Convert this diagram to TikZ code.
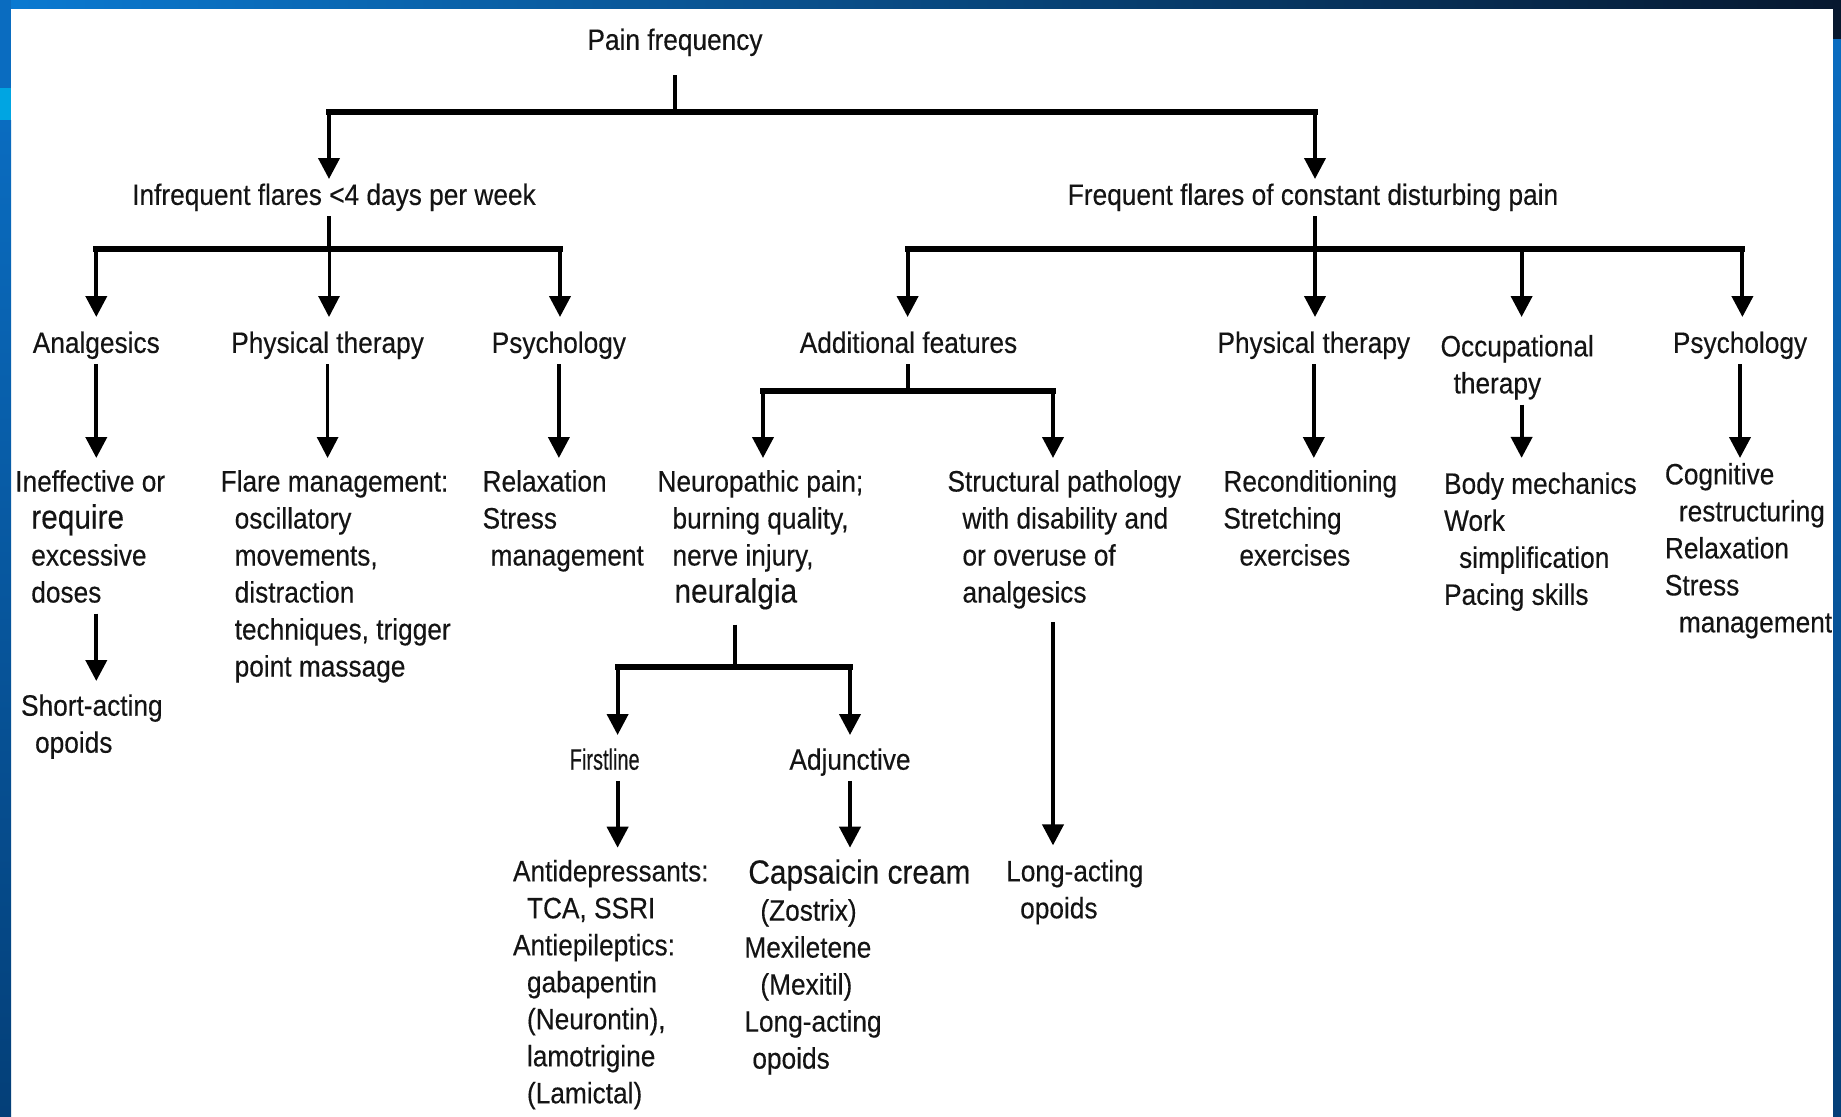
\documentclass[tikz,border=0pt]{standalone}
\usepackage{fontspec}
\setmainfont{Liberation Sans}[FakeStretch=0.89, FakeBold=0.3]
\usetikzlibrary{arrows.meta}
\definecolor{txtc}{HTML}{141414}
\definecolor{barA}{HTML}{0A7AD2}
\definecolor{barB}{HTML}{0A5FA8}
\definecolor{barC}{HTML}{07182F}
\definecolor{sideA}{HTML}{0A6CC0}
\definecolor{sideB}{HTML}{043F78}
\definecolor{sideCyan}{HTML}{00A5E2}
\newcommand\bigtxt[1]{{\fontsize{33.5}{37}\selectfont #1}}
\tikzset{
  txt/.style={inner sep=0pt, outer sep=0pt, text=txtc, font=\fontsize{29.5}{37}\selectfont},
  sl/.style={txt, anchor=center},
  ml/.style={txt, align=left, anchor=north west},
  bar/.style={line width=6pt, line cap=rect, draw=black},
  stem/.style={line width=4pt, draw=black},
  arr/.style={line width=4pt, draw=black, -{Triangle[width=21pt,length=21pt]}},
  tharr/.style={line width=3pt, draw=black, -{Triangle[width=21pt,length=21pt]}}
}
\begin{document}
\begin{tikzpicture}[x=1pt,y=-1pt]
\useasboundingbox (0,0) rectangle (1841,1116);
% background and frame
\fill[white] (0,0) rectangle (1841,1116);
\shade[left color=barA, middle color=barB, right color=barC] (0,0) rectangle (1841,9);
\fill[sideA] (0,0) rectangle (11,88);
\fill[sideCyan] (0,88) rectangle (11,120);
\shade[top color=sideA, bottom color=sideB] (0,120) rectangle (11,1116);
\fill[barC] (1833,0) rectangle (1841,40);
\shade[top color=sideA, bottom color=sideB] (1833,40) rectangle (1841,1116);

% ---------- nodes ----------
\node[sl] (pain) at (675,42.5) {\strut Pain frequency};
\node[sl] (inf)  at (334,197.5) {\strut Infrequent flares <4 days per week};
\node[sl] (freq) at (1313,197.5) {\strut Frequent flares of constant disturbing pain};

\node[sl] (ana)  at (96.3,345.5) {\strut Analgesics};
\node[sl] (pt1)  at (327.6,345.5) {\strut Physical therapy};
\node[sl] (psy1) at (558.9,345.5) {\strut Psychology};
\node[sl] (addf) at (908.5,345.5) {\strut Additional features};
\node[sl] (pt2)  at (1313.8,345.5) {\strut Physical therapy};
\node[ml] (occ)  at (1440.6,330.5) {\strut Occupational\\\hspace*{13pt}therapy\strut};
\node[sl] (psy2) at (1740,345.5) {\strut Psychology};

\node[ml] (ineff) at (15.3,465.6) {\strut Ineffective or\\\hspace*{16pt}\bigtxt{require}\\\hspace*{16pt}excessive\\\hspace*{16pt}doses\strut};
\node[ml] (short) at (21.1,689.8) {\strut Short-acting\\\hspace*{14pt}opoids\strut};
\node[ml] (flare) at (220.7,465.6) {\strut Flare management:\\\hspace*{14pt}oscillatory\\\hspace*{14pt}movements,\\\hspace*{14pt}distraction\\\hspace*{14pt}techniques, trigger\\\hspace*{14pt}point massage\strut};
\node[ml] (relax) at (482.6,465.6) {\strut Relaxation\\Stress\\\hspace*{8pt}management\strut};
\node[ml] (neuro) at (657.5,465.6) {\strut Neuropathic pain;\\\hspace*{15pt}burning quality,\\\hspace*{15pt}nerve injury,\\\hspace*{17pt}\bigtxt{neuralgia}\strut};
\node[ml] (struct) at (947.5,465.6) {\strut Structural pathology\\\hspace*{15pt}with disability and\\\hspace*{15pt}or overuse of\\\hspace*{15pt}analgesics\strut};
\node[ml] (recon) at (1223.4,465.6) {\strut Reconditioning\\Stretching\\\hspace*{16pt}exercises\strut};
\node[ml] (body) at (1444.1,467.9) {\strut Body mechanics\\Work\\\hspace*{15pt}simplification\\Pacing skills\strut};
\node[ml] (cog) at (1664.9,458.5) {\strut Cognitive\\\hspace*{14pt}restructuring\\Relaxation\\Stress\\\hspace*{14pt}management\strut};

\node[sl] (first) at (604.7,762.3) {\strut\scalebox{0.76}[1]{Firstline}};
\node[sl] (adj) at (850,762.3) {\strut Adjunctive};

\node[ml] (anti) at (513,855.4) {\strut Antidepressants:\\\hspace*{14pt}TCA, SSRI\\Antiepileptics:\\\hspace*{14pt}gabapentin\\\hspace*{14pt}(Neurontin),\\\hspace*{14pt}lamotrigine\\\hspace*{14pt}(Lamictal)\strut};
\node[ml] (caps) at (744.4,857.7) {\strut\hspace*{4pt}\bigtxt{Capsaicin cream}\\\hspace*{16pt}(Zostrix)\\Mexiletene\\\hspace*{16pt}(Mexitil)\\Long-acting\\\hspace*{8pt}opoids\strut};
\node[ml] (long) at (1006.2,855.4) {\strut Long-acting\\\hspace*{14pt}opoids\strut};

% ---------- junction coordinates ----------
\coordinate (b1L) at (329,111.5);
\coordinate (b1R) at (1315,111.5);
\coordinate (b2L) at (96.3,249);
\coordinate (b2R) at (560,249);
\coordinate (b3L) at (907.6,249);
\coordinate (b3R) at (1742.4,249);
\coordinate (occx) at (1521.6,249);
\coordinate (b4L) at (763,391);
\coordinate (b4R) at (1053,391);
\coordinate (b5L) at (617.6,667);
\coordinate (b5M) at (735,667);
\coordinate (b5R) at (850,667);

% ---------- level 0 -> 1 ----------
\draw[stem, shorten <=14pt] (pain.south) -- (pain.south |- b1L);
\draw[bar] (b1L) -- (b1R);
\draw[arr] (b1L) -- (b1L |- inf.north);
\draw[arr] (b1R) -- (b1R |- freq.north);

% ---------- left branch ----------
\draw[stem] (inf.south -| b1L) -- (b1L |- b2L);
\draw[bar] (b2L) -- (b2R);
\draw[arr, shorten >=10pt] (b2L) -- (b2L |- ana.north);
\draw[tharr, shorten >=10pt] (b1L |- b2L) -- (b1L |- pt1.north);
\draw[arr, shorten >=10pt] (b2R) -- (b2R |- psy1.north);

\draw[arr, shorten >=7.6pt] (ana.south) -- (ana.south |- ineff.north);
\draw[tharr, shorten >=7.6pt] (pt1.south) -- (pt1.south |- flare.north);
\draw[arr, shorten >=7.6pt] (psy1.south) -- (psy1.south |- relax.north);
\draw[arr, shorten >=8.8pt] (ana.south |- ineff.south) -- (ana.south |- short.north);

% ---------- right branch ----------
\draw[stem] (freq.south -| b1R) -- (b1R |- b3L);
\draw[bar] (b3L) -- (b3R);
\draw[arr, shorten >=10pt] (b3L) -- (b3L |- addf.north);
\draw[arr, shorten >=10pt] (b1R |- b3L) -- (b1R |- pt2.north);
\draw[arr, shorten >=13.5pt] (occx) -- (occx |- occ.north);
\draw[arr, shorten >=10pt] (b3R) -- (b3R |- psy2.north);

\draw[arr, shorten >=7.6pt] (pt2.south) -- (pt2.south |- recon.north);
\draw[arr, shorten >=10pt] (occx |- occ.south) -- (occx |- body.north);
\draw[arr, shorten >=0.5pt] (psy2.south) -- (psy2.south |- cog.north);

% additional features subtree
\draw[stem] (addf.south -| b3L) -- (b3L |- b4L);
\draw[bar] (b4L) -- (b4R);
\draw[arr, shorten >=7.6pt] (b4L) -- (b4L |- neuro.north);
\draw[arr, shorten >=7.6pt] (b4R) -- (b4R |- struct.north);

\draw[stem, shorten <=11pt] (neuro.south -| b5M) -- (b5M);
\draw[bar] (b5L) -- (b5R);
\draw[arr, shorten >=8.8pt] (b5L) -- (b5L |- first.north);
\draw[arr, shorten >=8.8pt] (b5R) -- (b5R |- adj.north);
\draw[arr, shorten >=7.7pt] (b5L |- first.south) -- (b5L |- anti.north);
\draw[arr, shorten >=10pt] (adj.south) -- (adj.south |- caps.north);
\draw[arr, shorten <=8.4pt, shorten >=10pt] (b4R |- struct.south) -- (b4R |- long.north);
\end{tikzpicture}
\end{document}
